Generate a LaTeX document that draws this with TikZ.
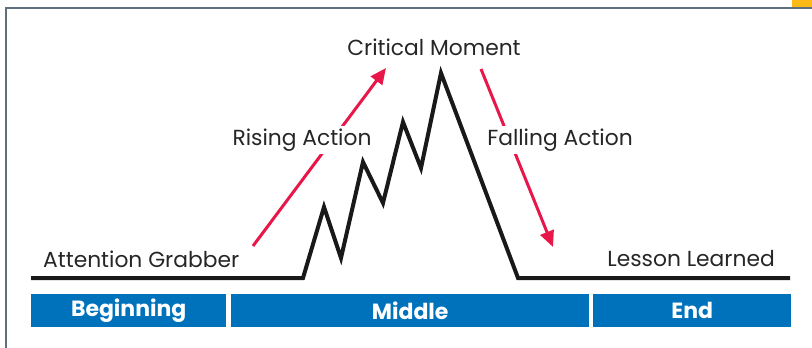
\documentclass[tikz,border=0pt]{standalone}
\usepackage{fontspec}
\setmainfont{Poppins}
\usetikzlibrary{arrows.meta}
\definecolor{barblue}{HTML}{0072BC}
\definecolor{arrred}{HTML}{E8174A}
\definecolor{framegray}{HTML}{5F6F7F}
\definecolor{tabgold}{HTML}{FBBA16}
\tikzset{
  lbl/.style={font=\fontsize{21.8}{24}\selectfont, text=black!85, inner sep=3pt},
  bar/.style={fill=barblue, text=white, font=\fontsize{22}{24}\selectfont\bfseries, minimum height=33pt, inner sep=0pt, anchor=west},
  plot/.style={line width=4pt, black!90, line join=miter},
  redarr/.style={line width=3pt, arrred, -{Triangle[length=16pt,width=14pt]}},
}
\begin{document}
\begin{tikzpicture}[x=1pt,y=-1pt]
\useasboundingbox (0,0) rectangle (812,348);
% frame
\fill[tabgold] (792,0) rectangle (812,6.5);
\draw[framegray, line width=2.2pt] (6,348) -- (6,8) -- (812,8);
% mountain
\coordinate (s) at (31,278);
\coordinate (b1) at (303,278);
\coordinate (p1) at (324,207);
\coordinate (v1) at (341,258);
\coordinate (p2) at (363,162);
\coordinate (v2) at (383,203);
\coordinate (p3) at (403,122);
\coordinate (v3) at (421,168);
\coordinate (pk) at (441,73);
\coordinate (b2) at (518,278);
\coordinate (e) at (790,278);
\draw[plot] (s) -- (b1) -- (p1) -- (v1) -- (p2) -- (v2) -- (p3) -- (v3) -- (pk) -- (b2) -- (e);
% arrows
\coordinate (ra) at (253,246);
\coordinate (rb) at (386,68);
\coordinate (fa) at (481,69);
\coordinate (fb) at (553,247);
\draw[redarr] (ra) -- (rb);
\draw[redarr] (fa) -- (fb);
% labels
\node[lbl] (cm) at (434,47) {Critical Moment};
\node[lbl, fill=white] (ris) at (302,140) {Rising Action};
\node[lbl, fill=white] (fal) at (560,140) {Falling Action};
\node[lbl, anchor=west, inner sep=0pt] (ag) at (43,259) {Attention Grabber};
\node[lbl, anchor=east, inner sep=0pt] (ll) at (775,259) {Lesson Learned};
% bars
\node[bar, minimum width=195pt] (beg) at (31,310.5) {Beginning};
\node[bar, minimum width=358pt] (mid) at (231,310.5) {Middle};
\node[bar, minimum width=198pt] (end) at (593,310.5) {End};
\end{tikzpicture}
\end{document}
